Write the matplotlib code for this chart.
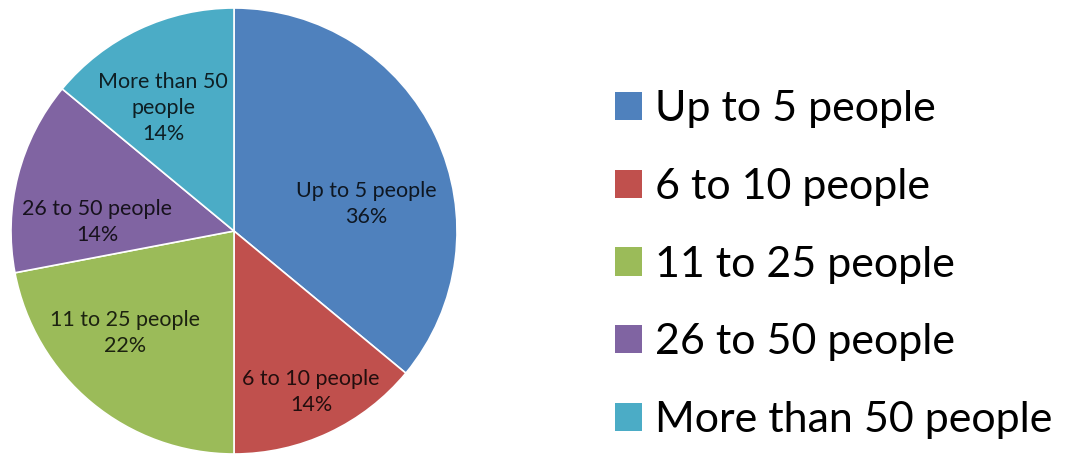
import matplotlib
matplotlib.use("Agg")
import matplotlib.pyplot as plt
from matplotlib.patches import Patch
import matplotlib.colors as mcolors

categories = ["Up to 5 people", "6 to 10 people", "11 to 25 people",
              "26 to 50 people", "More than 50 people"]
shares = [36, 14, 22, 14, 14]
colors = ["#4F81BD", "#C0504D", "#9BBB59", "#8064A2", "#4BACC6"]
wedge_labels = ["Up to 5 people", "6 to 10 people", "11 to 25 people",
                "26 to 50 people", "More than 50\npeople"]
# label anchor points inside each wedge (unit-circle coordinates)
label_pos = [(0.592, 0.121), (0.345, -0.722), (-0.489, -0.457),
             (-0.614, 0.040), (-0.318, 0.552)]

plt.rcParams["font.family"] = ["Lato", "DejaVu Sans"]

fig = plt.figure(figsize=(10.68, 4.54), dpi=100)
ax = fig.add_axes([11 / 1068, 0.0, 446 / 1068, 446 / 454])
wedges, _ = ax.pie(shares, colors=colors, startangle=90, counterclock=False,
                   radius=1.0, center=(0, 0),
                   wedgeprops=dict(edgecolor="white", linewidth=1.2))
ax.set_xlim(-1, 1)
ax.set_ylim(-1, 1)
ax.set_aspect("equal")
ax.axis("off")

for lab, val, (x, y), c in zip(wedge_labels, shares, label_pos, colors):
    rgb = mcolors.to_rgb(c)
    dark = tuple(0.18 * v for v in rgb)
    ax.text(x, y, f"{lab}\n{val}%", ha="center", va="center",
            fontsize=15.5, color=dark, linespacing=1.35)

handles = [Patch(facecolor=c, edgecolor="none") for c in colors]
fig.legend(handles, categories, loc="center left",
           bbox_to_anchor=(615 / 1068, 0.417), frameon=False,
           fontsize=31, handlelength=0.63, handleheight=0.63,
           handletextpad=0.3, labelspacing=0.92, borderaxespad=0,
           borderpad=0)

fig.savefig("out.png", dpi=100, facecolor="white")
